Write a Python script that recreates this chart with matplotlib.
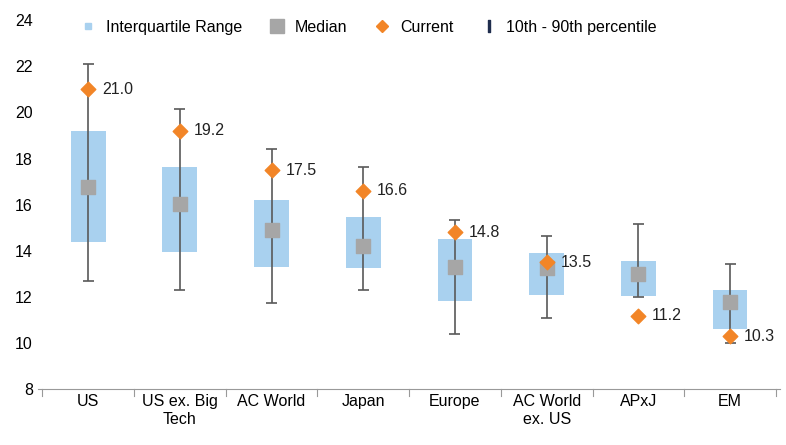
import matplotlib
matplotlib.use("Agg")
import matplotlib.pyplot as plt
from matplotlib.lines import Line2D

plt.rcParams["font.family"] = ["Liberation Sans", "DejaVu Sans"]

categories = ["US", "US ex. Big\nTech", "AC World", "Japan", "Europe", "AC World\nex. US", "APxJ", "EM"]
p10 = [12.7, 12.3, 11.75, 12.3, 10.4, 11.1, 12.0, 10.0]
q1 = [14.4, 13.95, 13.3, 13.25, 11.85, 12.1, 12.05, 10.6]
median = [16.75, 16.05, 14.9, 14.2, 13.3, 13.25, 13.0, 11.8]
q3 = [19.2, 17.65, 16.2, 15.45, 14.5, 13.9, 13.55, 12.3]
p90 = [22.1, 20.15, 18.4, 17.65, 15.35, 14.65, 15.15, 13.45]
current = [21.0, 19.2, 17.5, 16.6, 14.8, 13.5, 11.2, 10.3]

fig = plt.figure(figsize=(7.86, 4.45), dpi=100)
ax = fig.add_axes([0.048, 0.125, 0.945, 0.83])
x = list(range(len(categories)))
ax.bar(x, [b - a for a, b in zip(q1, q3)], bottom=q1, width=0.38, color="#a9d1ef", zorder=1)
ax.vlines(x, p10, p90, color="#595959", lw=1.2, zorder=2)
ax.hlines(p10, [i - 0.06 for i in x], [i + 0.06 for i in x], color="#595959", lw=1.2, zorder=2)
ax.hlines(p90, [i - 0.06 for i in x], [i + 0.06 for i in x], color="#595959", lw=1.2, zorder=2)
ax.scatter(x, median, marker="s", s=110, color="#a6a6a6", zorder=3)
ax.scatter(x, current, marker="D", s=55, color="#f28527", zorder=4)
for i, c in enumerate(current):
    ax.text(i + 0.15, c, f"{c:.1f}", va="center", ha="left", fontsize=11.5, color="#222222")

ax.set_ylim(8, 24)
ax.set_yticks(range(8, 25, 2))
ax.set_xlim(-0.55, 7.55)
ax.set_xticks(x)
ax.set_xticklabels(categories, fontsize=11.5)
ax.tick_params(axis="y", labelsize=11.5, length=0)
ax.tick_params(axis="x", length=0)
for s in ["top", "right", "left"]:
    ax.spines[s].set_visible(False)
ax.spines["bottom"].set_color("#999999")
for b in [i + 0.5 for i in range(-1, 8)]:
    ax.plot([b, b], [8, 7.7], color="#999999", lw=0.8, clip_on=False)

handles = [
    Line2D([], [], marker="s", ls="", color="#a9d1ef", markersize=4),
    Line2D([], [], marker="s", ls="", color="#a6a6a6", markersize=10),
    Line2D([], [], marker="D", ls="", color="#f28527", markersize=6),
    Line2D([], [], marker="$\\mathrm{I}$", ls="", color="#1f2d4d", markersize=8),
]
ax.legend(handles, ["Interquartile Range", "Median", "Current", "10th - 90th percentile"],
          loc="upper center", bbox_to_anchor=(0.44, 1.04), ncol=4, frameon=False,
          fontsize=11.5, handletextpad=0.1, columnspacing=1.2)
fig.savefig("out.png")
